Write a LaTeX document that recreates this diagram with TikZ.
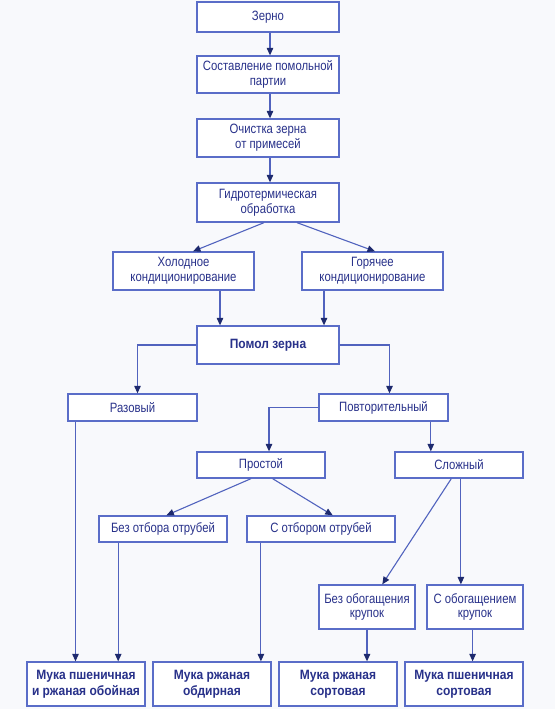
\documentclass[tikz,border=0pt]{standalone}
\usepackage{fontspec}
\setmainfont{Liberation Sans}[FakeStretch=0.84,BoldFeatures={FakeStretch=0.89}]
\usetikzlibrary{arrows.meta,calc}
\definecolor{bg}{HTML}{F8F9FC}
\definecolor{boxc}{HTML}{5A6DC8}
\definecolor{linec}{HTML}{5163BE}
\definecolor{txt}{HTML}{28318A}
\definecolor{headc}{HTML}{1E2A6E}
\begin{document}
\begin{tikzpicture}[x=1pt,y=-1pt,
  box/.style={draw=boxc,line width=1.3pt,fill=white,inner sep=0pt,align=center,
    text=txt,font=\fontsize{13.5}{14.7}\selectfont},
  bbox/.style={box,font=\fontsize{13.5}{15.5}\selectfont\bfseries},
  arr/.style={draw=linec,line width=1.1pt,-{Triangle[length=7.5pt,width=6.5pt,color=headc]}}]
\fill[bg] (0,0) rectangle (555,709);
\useasboundingbox (0,0) rectangle (555,709);
% nodes
\node[box,minimum width=142pt,minimum height=30pt] (zerno) at (268,17) {Зерно};
\node[box,minimum width=142pt,minimum height=37pt] (sost) at (268,74.5) {Составление помольной\\партии};
\node[box,minimum width=142pt,minimum height=38pt] (och) at (268,138) {Очистка зерна\\от примесей};
\node[box,minimum width=142pt,minimum height=39pt] (gidro) at (268,202.5) {Гидротермическая\\обработка};
\node[box,minimum width=141pt,minimum height=38pt] (hol) at (183.5,271) {Холодное\\кондиционирование};
\node[box,minimum width=141pt,minimum height=38pt] (gor) at (372.5,271) {Горячее\\кондиционирование};
\node[bbox,minimum width=142pt,minimum height=38pt] (pomol) at (268,345) {Помол зерна};
\node[box,minimum width=129pt,minimum height=27pt] (raz) at (132.5,407.5) {Разовый};
\node[box,minimum width=129pt,minimum height=27pt] (povt) at (383.5,407.5) {Повторительный};
\node[box,minimum width=128pt,minimum height=26pt] (prost) at (261,465) {Простой};
\node[box,minimum width=128pt,minimum height=26pt] (slozh) at (459,465) {Сложный};
\node[box,minimum width=128pt,minimum height=26pt] (bezotb) at (163,529) {Без отбора отрубей};
\node[box,minimum width=148pt,minimum height=26pt] (sotb) at (321,529) {С отбором отрубей};
\node[box,minimum width=96pt,minimum height=44pt] (bezob) at (367,607) {Без обогащения\\крупок};
\node[box,minimum width=96pt,minimum height=44pt] (sob) at (475,607) {С обогащением\\крупок};
\node[bbox,minimum width=118pt,minimum height=44pt] (f1) at (86,684) {Мука пшеничная\\и ржаная обойная};
\node[bbox,minimum width=118pt,minimum height=44pt] (f2) at (212,684) {Мука ржаная\\обдирная};
\node[bbox,minimum width=118pt,minimum height=44pt] (f3) at (338,684) {Мука ржаная\\сортовая};
\node[bbox,minimum width=118pt,minimum height=44pt] (f4) at (464,684) {Мука пшеничная\\сортовая};
% connectors
\draw[arr] ([xshift=2pt]zerno.south) -- ([xshift=2pt]zerno.south |- sost.north);
\draw[arr] ([xshift=2pt]sost.south) -- ([xshift=2pt]sost.south |- och.north);
\draw[arr] ([xshift=2pt]och.south) -- ([xshift=2pt]och.south |- gidro.north);
\draw[arr] ([xshift=-4pt]gidro.south) -- ([xshift=9.5pt]hol.north);
\draw[arr] ([xshift=29pt]gidro.south) -- ([xshift=2.5pt]gor.north);
\draw[arr] ([xshift=36.5pt]hol.south) -- ([xshift=36.5pt]hol.south |- pomol.north);
\draw[arr] ([xshift=-48.5pt]gor.south) -- ([xshift=-48.5pt]gor.south |- pomol.north);
\draw[arr] (pomol.west) -| ([xshift=5pt]raz.north);
\draw[arr] (pomol.east) -| ([xshift=6pt]povt.north);
\draw[arr] (povt.west) -| ([xshift=8pt]prost.north);
\draw[arr] ([xshift=47.3pt]povt.south) -- ([xshift=47.3pt]povt.south |- slozh.north);
\draw[arr] ([xshift=-10pt]prost.south) -- ([xshift=3.4pt]bezotb.north);
\draw[arr] ([xshift=11.6pt]prost.south) -- ([xshift=11.7pt]sotb.north);
\draw[arr] ([xshift=-7.7pt]slozh.south) -- ([xshift=15.3pt]bezob.north);
\draw[arr] ([xshift=1.9pt]slozh.south) -- ([xshift=1.9pt]slozh.south |- sob.north);
\draw[arr] ([xshift=-57pt]raz.south) -- ([xshift=-57pt]raz.south |- f1.north);
\draw[arr] ([xshift=-44.8pt]bezotb.south) -- ([xshift=-44.8pt]bezotb.south |- f1.north);
\draw[arr] ([xshift=-60.1pt]sotb.south) -- ([xshift=-60.1pt]sotb.south |- f2.north);
\draw[arr] (bezob.south) -- (bezob.south |- f3.north);
\draw[arr] ([xshift=-2.4pt]sob.south) -- ([xshift=-2.4pt]sob.south |- f4.north);
\end{tikzpicture}
\end{document}
